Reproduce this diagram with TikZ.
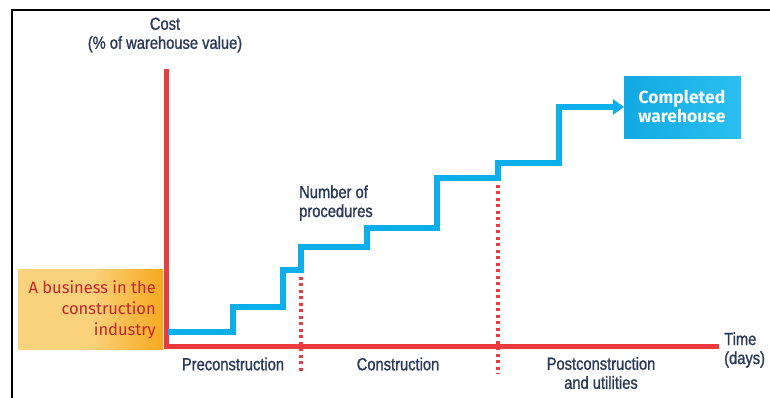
\documentclass[tikz,border=0pt]{standalone}
\usepackage{fontspec}
\setmainfont{Liberation Sans}[FakeStretch=0.84, FakeBold=1.2]
\newfontfamily\boxfont{Fira Sans}
\usetikzlibrary{arrows.meta}
\definecolor{axisred}{HTML}{EC3B3F}
\definecolor{stepblue}{HTML}{0DAEEA}
\definecolor{txtnavy}{HTML}{2B3A5A}
\definecolor{orangeL}{HTML}{FBD27C}
\definecolor{orangeR}{HTML}{F6A91E}
\definecolor{darkred}{HTML}{C4262E}
\definecolor{boxblueL}{HTML}{12A9E4}
\definecolor{boxblueR}{HTML}{2BC0F0}
\tikzset{
  lbl/.style={text=txtnavy, font=\fontsize{17.5}{19}\selectfont, inner sep=0pt, align=center},
  axisline/.style={draw=axisred, line width=5pt},
  phaseline/.style={draw=axisred, line width=3.2pt, dash pattern=on 3pt off 3.5pt},
  stepline/.style={draw=stepblue, line width=6pt},
}
\begin{document}
\begin{tikzpicture}[x=1pt,y=-1pt]
\useasboundingbox (0,0) rectangle (770,398);
% frame (top and left visible)
\draw[black, line width=2pt] (12,398) -- (12,10) -- (770,10);
% orange box
\shade[left color=orangeL, right color=orangeR, middle color=orangeL] (18,269) rectangle (163,349);
\node[inner sep=0pt, text=darkred, align=right, anchor=east, font=\boxfont\fontsize{16.5}{21}\selectfont] (biz) at (156,310) {A business in the\\construction\\industry};
% axes
\coordinate (ytop) at (166,69);
\coordinate (orig) at (166,346);
\coordinate (xend) at (719,346);
\draw[axisline] (ytop) -- (orig) -- (xend);
% phase dividers
\coordinate (d1t) at (301,270);
\coordinate (d1b) at (301,372);
\coordinate (d2t) at (498,178);
\coordinate (d2b) at (498,374);
\draw[phaseline] (d1t) -- (d1b);
\draw[phaseline] (d2t) -- (d2b);
% completed box
\shade[left color=boxblueL, right color=boxblueR] (624,77) rectangle (741,139);
\node[inner sep=0pt, text=white, align=center, font=\boxfont\bfseries\fontsize{17.5}{19}\selectfont] (cw) at (682,107) {Completed\\warehouse};
\coordinate (cwl) at (624,107);
% step line
\coordinate (s0) at (168,332);
\draw[stepline, line join=miter, -{Triangle[width=15pt,length=11pt]}] (s0) -- (233,332) -- (233,307) -- (283,307) -- (283,270) -- (301,270) -- (301,247) -- (367,247) -- (367,228) -- (437,228) -- (437,178) -- (498,178) -- (498,163) -- (559,163) -- (559,107) -- (cwl);
% labels
\node[lbl] (cost) at (165,35) {Cost\\(\% of warehouse value)};
\node[lbl, align=left, anchor=west] (nproc) at (299,203) {Number of\\procedures};
\node[lbl] (pre) at (233,364) {Preconstruction};
\node[lbl] (con) at (398,364) {Construction};
\node[lbl] (post) at (601,373) {Postconstruction\\and utilities};
\node[lbl, align=left, anchor=west] (time) at (724,350) {Time\\(days)};
\end{tikzpicture}
\end{document}
